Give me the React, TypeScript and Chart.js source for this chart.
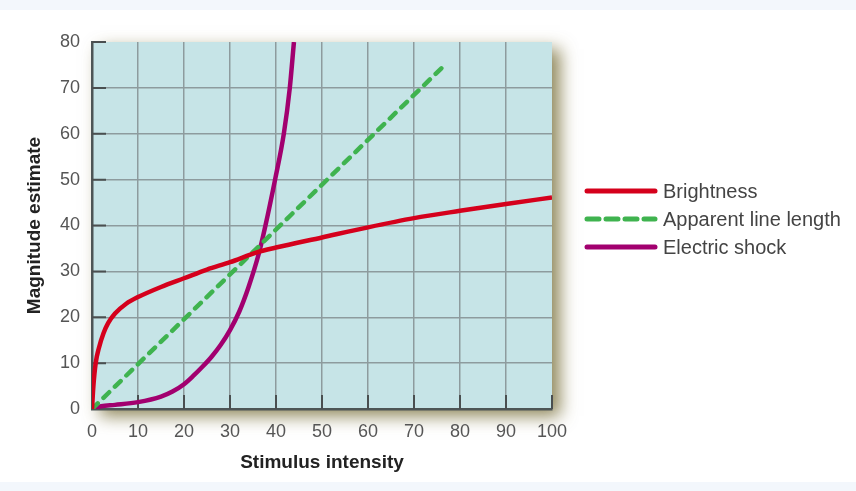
import { useEffect, useRef } from "react"
import { Chart, type ChartConfiguration, type Plugin } from "chart.js/auto"

// values
const brightnessX = [0, 0.3, 0.8, 1.5, 2.5, 3.5, 5, 7.5, 10, 15, 20, 25, 30, 36, 40, 50, 60, 70, 80, 90, 100]
const brightnessY = [0, 5, 10, 13.3, 16.5, 18.7, 20.8, 23, 24.4, 26.6, 28.5, 30.4, 32, 34.2, 35.2, 37.4, 39.6, 41.6, 43.2, 44.7, 46.1]

const lineLengthX = [0, 77]
const lineLengthY = [0, 75.3]

const shockX = [0, 2, 5, 10, 15, 17.5, 20, 22, 24, 26, 28, 30, 32, 34, 36.3, 37.6, 39.8, 41.7, 43, 43.9]
const shockY = [0, 0.6, 0.9, 1.5, 2.7, 3.8, 5.4, 7.2, 9.2, 11.4, 14, 17.2, 21.2, 26.5, 34, 39.5, 50, 60, 70, 80]

const seriesNames = ["Brightness", "Apparent line length", "Electric shock"]
const xTicks = [0, 10, 20, 30, 40, 50, 60, 70, 80, 90, 100]
const yTicks = [0, 10, 20, 30, 40, 50, 60, 70, 80]

const FONT = "'Liberation Sans', Arial, sans-serif"
const pts = (xs: number[], ys: number[]) => xs.map((x, i) => ({ x, y: ys[i] }))

const decor: Plugin<"line"> = {
  id: "decor",
  beforeDraw: (chart) => {
    const { ctx, width, height, chartArea: a } = chart
    ctx.save()
    ctx.fillStyle = "#ffffff"
    ctx.fillRect(0, 0, width, height)
    ctx.fillStyle = "#f3f7fc"
    ctx.fillRect(0, 0, width, 10)
    ctx.fillRect(0, 482, width, height - 482)
    // plot box with its soft olive shadow
    ctx.shadowColor = "rgba(105, 95, 35, 0.75)"
    ctx.shadowBlur = 16
    ctx.shadowOffsetX = 8
    ctx.shadowOffsetY = 7
    ctx.fillStyle = "#c6e4e7"
    ctx.fillRect(a.left, a.top, a.right - a.left, a.bottom - a.top)
    ctx.restore()
  },
  beforeDatasetsDraw: (chart) => {
    const { ctx, chartArea: a, scales } = chart
    ctx.save()
    ctx.strokeStyle = "#4a4f50"
    ctx.lineWidth = 2
    ctx.beginPath()
    for (const v of yTicks.slice(1)) {
      const y = scales.y.getPixelForValue(v)
      ctx.moveTo(a.left, y)
      ctx.lineTo(a.left + 14, y)
    }
    for (const v of xTicks.slice(1)) {
      const x = scales.x.getPixelForValue(v)
      ctx.moveTo(x, a.bottom)
      ctx.lineTo(x, a.bottom - 14)
    }
    ctx.stroke()

    // axis titles
    ctx.fillStyle = "#222"
    ctx.font = `bold 19px ${FONT}`
    ctx.textAlign = "center"
    ctx.textBaseline = "middle"
    ctx.fillText("Stimulus intensity", (a.left + a.right) / 2, 463)
    ctx.translate(35, (a.top + a.bottom) / 2)
    ctx.rotate(-Math.PI / 2)
    ctx.fillText("Magnitude estimate", 0, 0)
    ctx.restore()
  },
  afterDraw: (chart) => {
    const { ctx } = chart
    const rows = [191, 219, 247]
    ctx.save()
    chart.data.datasets.forEach((ds: any, i) => {
      ctx.strokeStyle = ds.borderColor
      ctx.lineWidth = 5
      ctx.lineCap = "round"
      ctx.setLineDash(ds.borderDash ? [12, 7] : [])
      ctx.beginPath()
      ctx.moveTo(587, rows[i])
      ctx.lineTo(655, rows[i])
      ctx.stroke()
      ctx.setLineDash([])
      ctx.fillStyle = "#444"
      ctx.font = `20px ${FONT}`
      ctx.textAlign = "left"
      ctx.textBaseline = "middle"
      ctx.fillText(ds.label, 663, rows[i] + 1)
    })
    ctx.restore()
  },
}

export default function App() {
  const chartRef = useRef<HTMLCanvasElement>(null)
  const chartInstance = useRef<Chart | null>(null)

  useEffect(() => {
    if (!chartRef.current) return
    const ctx = chartRef.current.getContext("2d")
    if (!ctx) return

    if (chartInstance.current) {
      chartInstance.current.destroy()
    }

    const gridColor = (v: number, max: number) => (v === max || v === 0 ? "transparent" : "#8d9b9e")

    const config: ChartConfiguration<"line"> = {
      type: "line",
      data: {
        datasets: [
          {
            label: seriesNames[0],
            data: pts(brightnessX, brightnessY),
            borderColor: "#d5001c",
            borderWidth: 4.5,
            pointRadius: 0,
            cubicInterpolationMode: "monotone",
          },
          {
            label: seriesNames[1],
            data: pts(lineLengthX, lineLengthY),
            borderColor: "#3fb34f",
            borderWidth: 4.5,
            borderDash: [8, 8],
            borderCapStyle: "round",
            pointRadius: 0,
          },
          {
            label: seriesNames[2],
            data: pts(shockX, shockY),
            borderColor: "#a2006f",
            borderWidth: 4.5,
            pointRadius: 0,
            cubicInterpolationMode: "monotone",
          },
        ],
      },
      options: {
        responsive: false,
        animation: false,
        devicePixelRatio: 1,
        layout: { padding: { left: 0, top: 42, right: 304, bottom: 0 } },
        plugins: {
          legend: { display: false },
          tooltip: { enabled: false },
        },
        scales: {
          x: {
            type: "linear",
            min: 0,
            max: 100,
            afterFit: (s) => {
              s.height = 82
            },
            afterBuildTicks: (s) => {
              s.ticks = xTicks.map((value) => ({ value }))
            },
            grid: {
              drawTicks: false,
              lineWidth: 1.5,
              color: (c) => gridColor(c.tick.value, 100),
            },
            border: { display: true, color: "#4d5556", width: 2.5 },
            ticks: {
              padding: 12,
              color: "#555",
              font: { family: FONT, size: 18 },
            },
          },
          y: {
            type: "linear",
            min: 0,
            max: 80,
            afterFit: (s) => {
              s.width = 92
            },
            afterBuildTicks: (s) => {
              s.ticks = yTicks.map((value) => ({ value }))
            },
            grid: {
              drawTicks: false,
              lineWidth: 1.5,
              color: (c) => gridColor(c.tick.value, 80),
            },
            border: { display: true, color: "#4d5556", width: 2.5 },
            ticks: {
              padding: 12,
              color: "#555",
              font: { family: FONT, size: 18 },
            },
          },
        },
      },
      plugins: [decor],
    }

    chartInstance.current = new Chart(ctx, config)

    return () => {
      if (chartInstance.current) {
        chartInstance.current.destroy()
        chartInstance.current = null
      }
    }
  }, [])

  return (
    <div style={{ position: "fixed", left: 0, top: 0, width: 856, height: 491 }}>
      <canvas ref={chartRef} width={856} height={491} />
    </div>
  )
}
